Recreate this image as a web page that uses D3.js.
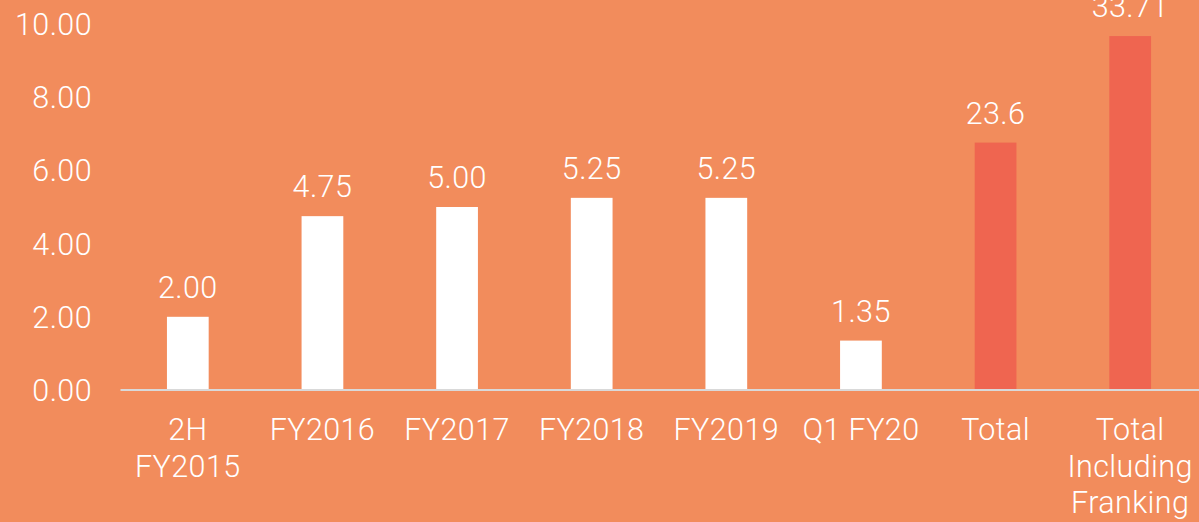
<!DOCTYPE html>
<html><head><meta charset="utf-8">
<script src="https://cdn.jsdelivr.net/npm/d3@7"></script>
<style>
html,body{margin:0;padding:0;background:#F28C5C;}
svg{display:block;}
text{font-family:Roboto,"Open Sans",sans-serif;font-weight:300;fill:#fff;}
</style></head><body>
<svg id="c" width="1199" height="522"></svg>
<script>
const categories = [["2H","FY2015"],["FY2016"],["FY2017"],["FY2018"],["FY2019"],["Q1 FY20"],["Total"],["Total","Including","Franking"]];
const barValues = [2.00, 4.75, 5.00, 5.25, 5.25, 1.35, 6.76, 9.67];
const valueLabels = ["2.00","4.75","5.00","5.25","5.25","1.35","23.6","33.71"];
const barKinds = ["period","period","period","period","period","period","total","total"];
const yTicks = [0,2,4,6,8,10];

const svg = d3.select("#c");
svg.append("rect").attr("width",1199).attr("height",522).attr("fill","#F28C5C");

const x = d3.scaleBand().domain(d3.range(categories.length)).range([120.5,1197.5]).paddingInner(0.69).paddingOuter(0.345);
const y = d3.scaleLinear().domain([0,10]).range([390,24]);

const fs = 30.5, ls = "0.4px";

// y axis labels
svg.append("g").selectAll("text").data(yTicks).join("text")
  .attr("x",92).attr("y",d=>y(d)).attr("dy","0.36em")
  .attr("text-anchor","end").attr("font-size",fs).attr("letter-spacing",ls)
  .text(d=>d3.format(".2f")(d));

// bars
svg.append("g").selectAll("rect").data(barValues).join("rect")
  .attr("x",(d,i)=>x(i)).attr("width",x.bandwidth())
  .attr("y",d=>y(d)).attr("height",d=>y(0)-y(d))
  .attr("fill",(d,i)=>barKinds[i]==="total"?"#EF6550":"#FFFFFF");

// axis line
svg.append("line").attr("x1",120.5).attr("x2",1199).attr("y1",390).attr("y2",390)
  .attr("stroke","#D9D9D9").attr("stroke-width",2);

// value labels
svg.append("g").selectAll("text").data(barValues).join("text")
  .attr("x",(d,i)=>x(i)+x.bandwidth()/2).attr("y",d=>y(d)-19)
  .attr("text-anchor","middle").attr("font-size",fs).attr("letter-spacing",ls)
  .text((d,i)=>valueLabels[i]);

// category labels
const cg = svg.append("g").selectAll("text").data(categories).join("text")
  .attr("text-anchor","middle").attr("font-size",fs).attr("letter-spacing",ls)
  .attr("transform",(d,i)=>`translate(${x(i)+x.bandwidth()/2},0)`);
cg.selectAll("tspan").data(d=>d).join("tspan")
  .attr("x",0).attr("y",(d,j)=>440+j*36.5).text(d=>d);
</script>
</body></html>
